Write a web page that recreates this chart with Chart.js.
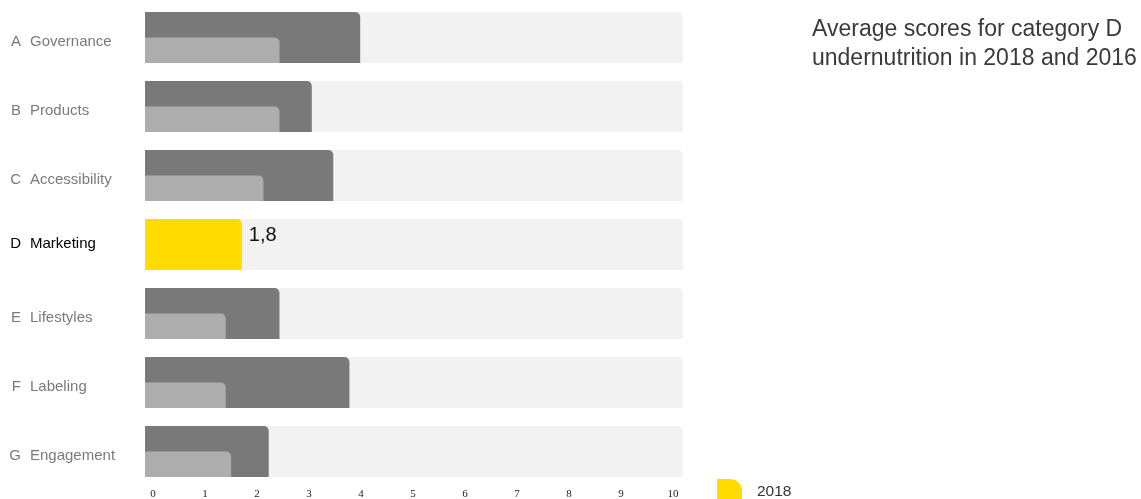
<!DOCTYPE html>
<html>
<head>
<meta charset="utf-8">
<script src="https://cdn.jsdelivr.net/npm/chart.js@4.4.1/dist/chart.umd.min.js"></script>
<style>
  html, body { margin: 0; padding: 0; background: #ffffff; }
  #wrap { position: relative; width: 1141px; height: 499px; }
</style>
</head>
<body>
<div id="wrap"><canvas id="chart"></canvas></div>
<script>
// ---- data ----
const letters = ['A', 'B', 'C', 'D', 'E', 'F', 'G'];
const categories = ['Governance', 'Products', 'Accessibility', 'Marketing', 'Lifestyles', 'Labeling', 'Engagement'];
const scores2018 = [4.0, 3.1, 3.5, 1.8, 2.5, 3.8, 2.3];
const scores2016 = [2.5, 2.5, 2.2, null, 1.5, 1.5, 1.6];
const maxScore = 10;
const tickValues = [0, 1, 2, 3, 4, 5, 6, 7, 8, 9, 10];
const highlightCategory = 'Marketing';
const titleLines = ['Average scores for category D', 'undernutrition in 2018 and 2016'];
const legendLabel = '2018';

// ---- styling ----
const SANS = '"Liberation Sans", Arial, Helvetica, sans-serif';
const SERIF = '"Liberation Serif", "Times New Roman", serif';
const COL_DARK = '#797979';
const COL_LIGHT = '#adadad';
const COL_TRACK = '#f2f2f2';
const COL_HIGHLIGHT = '#ffdb00';
const hi = categories.indexOf(highlightCategory);

const trackData = categories.map(() => maxScore);

const overlayPlugin = {
  id: 'overlay',
  afterDatasetsDraw(chart) {
    const ctx = chart.ctx;
    const meta = chart.getDatasetMeta(2);
    const el = meta.data[hi];
    if (!el) return;
    const p = el.getProps(['x', 'y', 'height'], true);
    ctx.save();
    ctx.font = '20px ' + SANS;
    ctx.fillStyle = '#111111';
    ctx.textAlign = 'left';
    ctx.textBaseline = 'alphabetic';
    ctx.fillText(String(scores2018[hi]).replace('.', ','), p.x + 7, p.y - p.height / 2 + 22);
    ctx.restore();
  },
  afterDraw(chart) {
    const ctx = chart.ctx;
    const area = chart.chartArea;
    ctx.save();
    // title
    ctx.font = '23px ' + SANS;
    ctx.fillStyle = '#3a3a3a';
    ctx.textAlign = 'left';
    ctx.textBaseline = 'alphabetic';
    titleLines.forEach((line, i) => {
      ctx.fillText(line, area.right + 129, 36 + i * 29);
    });
    // legend
    const bx = area.right + 34, by = area.bottom - 7, bw = 25, bh = 28, r = 12;
    ctx.fillStyle = COL_HIGHLIGHT;
    ctx.beginPath();
    ctx.moveTo(bx, by);
    ctx.lineTo(bx + bw - r, by);
    ctx.arcTo(bx + bw, by, bx + bw, by + r, r);
    ctx.lineTo(bx + bw, by + bh);
    ctx.lineTo(bx, by + bh);
    ctx.closePath();
    ctx.fill();
    ctx.font = '15.5px ' + SANS;
    ctx.fillStyle = '#333333';
    ctx.fillText(legendLabel, bx + 40, area.bottom + 9.5);
    ctx.restore();
  }
};

const labelColor = (c) => (c.index === hi ? '#000000' : '#7a7a7a');
const labelFont = (c) => ({ family: SANS, size: 15, lineHeight: c.index === hi ? 0.6 : 1.2 });

new Chart(document.getElementById('chart'), {
  type: 'bar',
  data: {
    labels: categories,
    datasets: [
      { label: 'spacer', data: [], order: 0, grouped: true,
        categoryPercentage: 51 / 69, barPercentage: 1, backgroundColor: 'rgba(0,0,0,0)' },
      { label: '2016', data: scores2016, order: 1, grouped: true,
        categoryPercentage: 51 / 69, barPercentage: 1,
        backgroundColor: COL_LIGHT, borderWidth: 0, borderRadius: { topRight: 5 } },
      { label: legendLabel, data: scores2018, order: 2, grouped: false,
        categoryPercentage: 1, barPercentage: 51 / 69,
        backgroundColor: (c) => (c.dataIndex === hi ? COL_HIGHLIGHT : COL_DARK),
        borderWidth: 0, borderRadius: { topRight: 5 } },
      { label: 'max', data: trackData, order: 3, grouped: false,
        categoryPercentage: 1, barPercentage: 51 / 69,
        backgroundColor: COL_TRACK, borderWidth: 0, borderRadius: { topRight: 5 } }
    ]
  },
  options: {
    indexAxis: 'y',
    responsive: true,
    maintainAspectRatio: false,
    animation: false,
    events: [],
    layout: { padding: { left: 0, top: 3, right: 458, bottom: 0 } },
    plugins: {
      legend: { display: false },
      tooltip: { enabled: false },
      title: { display: false }
    },
    scales: {
      x: { type: 'linear', display: false, min: 0, max: maxScore },
      x2: {
        type: 'linear', position: 'bottom', min: -0.154, max: 10.192,
        grid: { display: false, drawTicks: false }, border: { display: false },
        afterBuildTicks: (s) => { s.ticks = tickValues.map((v) => ({ value: v })); },
        ticks: { padding: 2, color: '#222222', autoSkip: false, maxRotation: 0,
          font: { family: SERIF, size: 11 } },
        afterFit: (s) => { s.height = 13; s.paddingLeft = 0; s.paddingRight = 0; }
      },
      yLetters: {
        type: 'category', labels: letters, position: 'left', weight: 2, offset: true,
        grid: { display: false, drawTicks: false }, border: { display: false },
        ticks: { crossAlign: 'near', padding: 9, labelOffset: 4, autoSkip: false,
          color: labelColor, font: labelFont,
          callback: (v, i) => (i === hi ? [letters[i], ''] : letters[i]) },
        afterFit: (s) => { s.width = 30; s.paddingTop = 0; s.paddingBottom = 0; }
      },
      y: {
        type: 'category', position: 'left', weight: 1, offset: true,
        grid: { display: false, drawTicks: false }, border: { display: false },
        ticks: { crossAlign: 'far', padding: 0, labelOffset: 4, autoSkip: false,
          color: labelColor, font: labelFont,
          callback: (v, i) => (i === hi ? [categories[i], ''] : categories[i]) },
        afterFit: (s) => { s.width = 115; s.paddingTop = 0; s.paddingBottom = 0; }
      }
    }
  },
  plugins: [overlayPlugin]
});
</script>
</body>
</html>
